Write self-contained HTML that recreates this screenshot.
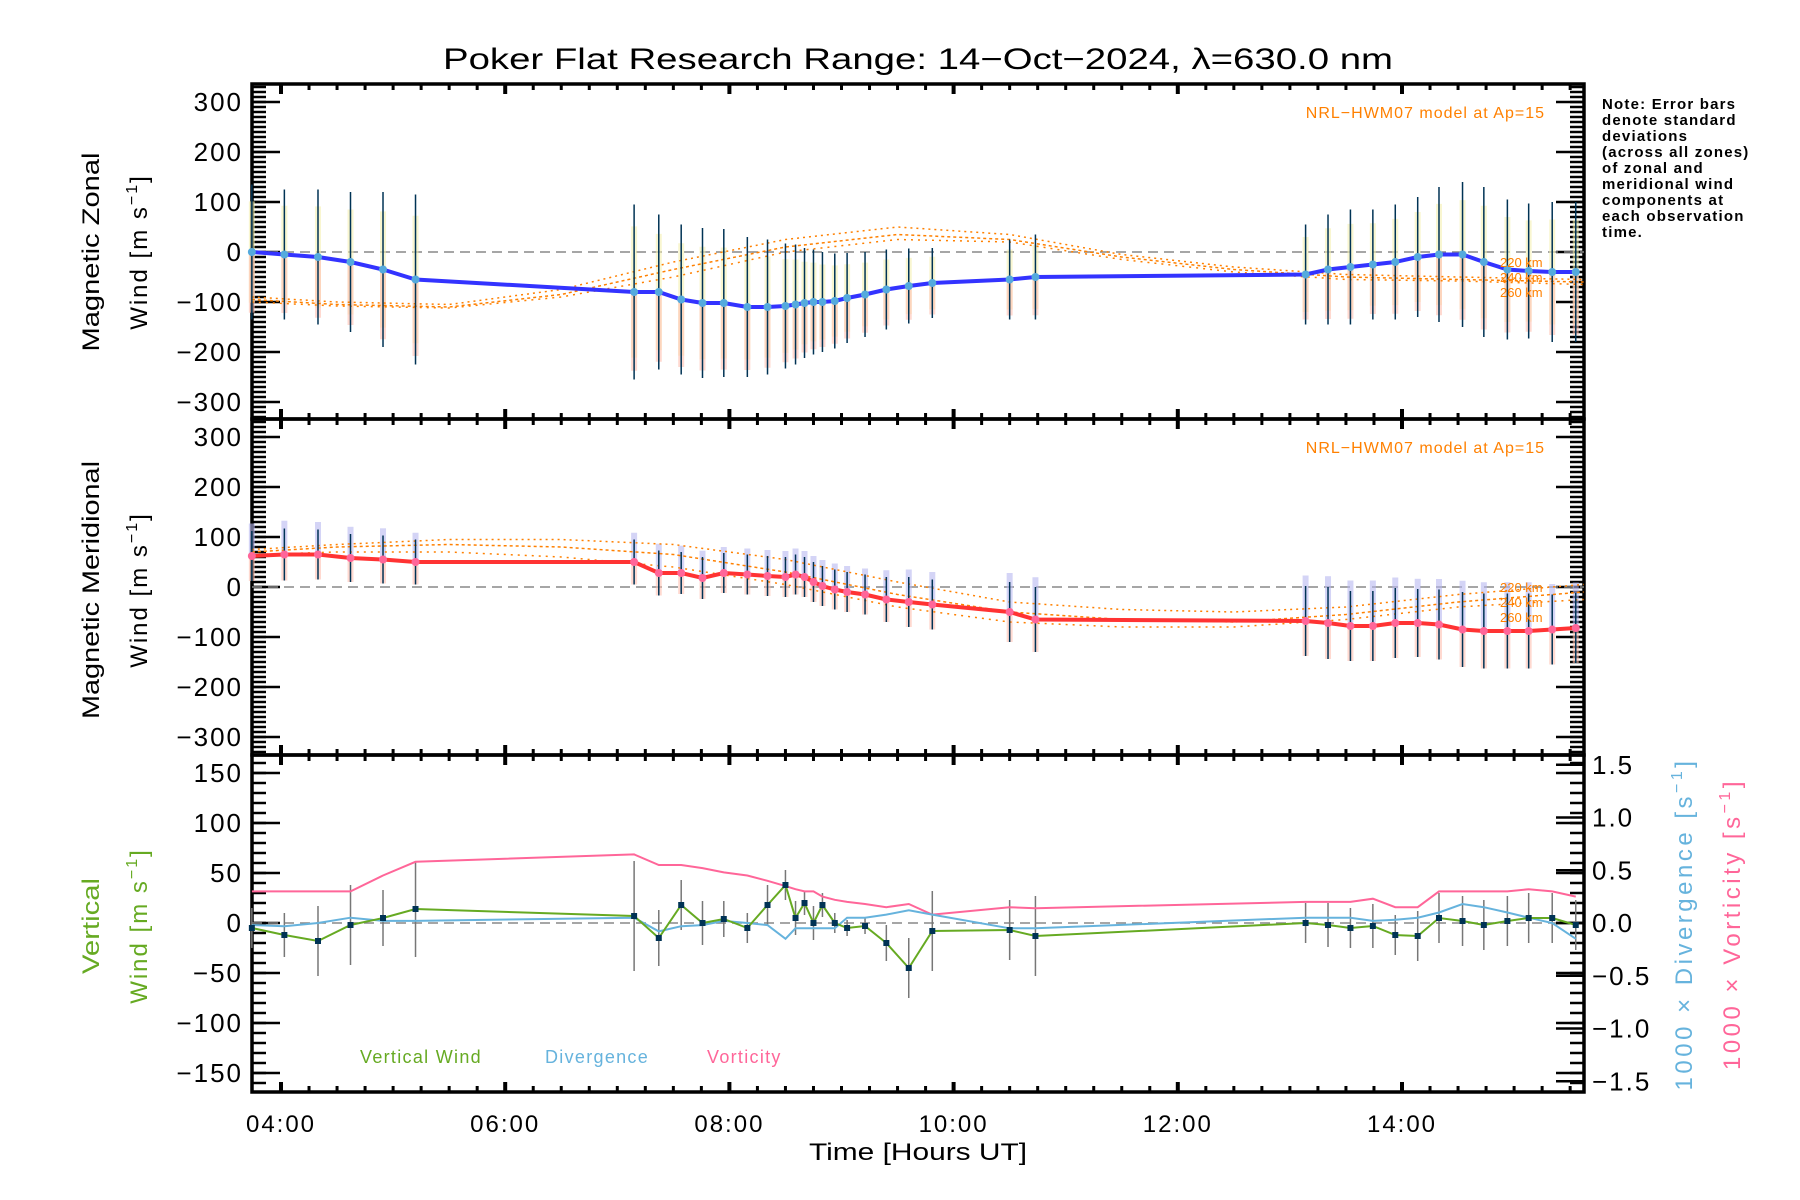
<!DOCTYPE html>
<html><head><meta charset="utf-8"><style>
html,body{margin:0;padding:0;background:#fff;}
svg{display:block;font-family:"Liberation Sans","DejaVu Sans",sans-serif;}
</style></head><body>
<svg id="chart" width="1800" height="1200" viewBox="0 0 1800 1200" xmlns="http://www.w3.org/2000/svg">
<text x="918" y="69" font-size="30" text-anchor="middle" textLength="950" lengthAdjust="spacingAndGlyphs">Poker Flat Research Range: 14−Oct−2024, λ=630.0 nm</text>
<g id="p1"></g>
<g id="p2"></g>
<g id="p3"></g>
<g font-size="24">
<text transform="translate(99,252) rotate(-90)" text-anchor="middle" textLength="199" lengthAdjust="spacingAndGlyphs">Magnetic Zonal</text>
<text transform="translate(147,252) rotate(-90)" text-anchor="middle" letter-spacing="2">Wind [m s<tspan dy="-10" font-size="16">−1</tspan><tspan dy="10">]</tspan></text>
</g>
<g font-size="24">
<text transform="translate(99,590) rotate(-90)" text-anchor="middle" textLength="258" lengthAdjust="spacingAndGlyphs">Magnetic Meridional</text>
<text transform="translate(147,590) rotate(-90)" text-anchor="middle" letter-spacing="2">Wind [m s<tspan dy="-10" font-size="16">−1</tspan><tspan dy="10">]</tspan></text>
</g>
<g font-size="24" fill="#66aa22">
<text transform="translate(99,926) rotate(-90)" text-anchor="middle" textLength="96" lengthAdjust="spacingAndGlyphs">Vertical</text>
<text transform="translate(147,926) rotate(-90)" text-anchor="middle" letter-spacing="2">Wind [m s<tspan dy="-10" font-size="16">−1</tspan><tspan dy="10">]</tspan></text>
</g>
<text transform="translate(1692,924) rotate(-90)" text-anchor="middle" font-size="24" fill="#66b3dd" letter-spacing="3.5">1000 × Divergence [s<tspan dy="-10" font-size="16">−1</tspan><tspan dy="10">]</tspan></text>
<text transform="translate(1740,924) rotate(-90)" text-anchor="middle" font-size="24" fill="#ff6699" letter-spacing="3.5">1000 × Vorticity [s<tspan dy="-10" font-size="16">−1</tspan><tspan dy="10">]</tspan></text>
<text x="918" y="1160" font-size="24" text-anchor="middle" textLength="218" lengthAdjust="spacingAndGlyphs">Time [Hours UT]</text>
<g font-size="15" font-weight="bold" letter-spacing="1.2">
<text x="1602" y="109">Note: Error bars</text><text x="1602" y="125">denote standard</text><text x="1602" y="141">deviations</text><text x="1602" y="157">(across all zones)</text><text x="1602" y="173">of zonal and</text><text x="1602" y="189">meridional wind</text><text x="1602" y="205">components at</text><text x="1602" y="221">each observation</text><text x="1602" y="237">time.</text>
</g>
<g font-size="18" letter-spacing="1.3">
<text x="360" y="1063" fill="#66aa22">Vertical Wind</text>
<text x="545" y="1063" fill="#66b3dd">Divergence</text>
<text x="707" y="1063" fill="#ff6699">Vorticity</text>
</g>
</svg>
<script>
const times=[3.74,4.03,4.33,4.62,4.91,5.20,7.15,7.37,7.57,7.76,7.95,8.16,8.34,8.50,8.59,8.67,8.75,8.83,8.94,9.05,9.21,9.40,9.60,9.81,10.50,10.73,13.14,13.34,13.54,13.74,13.94,14.14,14.33,14.54,14.73,14.94,15.13,15.34,15.55];
const zonal=[0,-5,-10,-20,-35,-55,-80,-80,-95,-102,-102,-110,-110,-108,-105,-102,-100,-100,-98,-92,-85,-75,-68,-62,-55,-50,-45,-35,-30,-25,-20,-10,-5,-5,-20,-35,-38,-40,-40];
const zonalErr=[135,130,135,140,155,170,175,155,150,150,148,140,135,125,120,110,105,100,95,90,85,80,75,70,80,85,100,110,115,110,115,120,135,145,150,140,135,140,140];
const meridional=[62,65,65,58,55,50,50,28,28,18,28,25,22,20,25,20,10,2,-5,-10,-15,-25,-30,-35,-50,-65,-68,-72,-78,-78,-72,-72,-75,-85,-88,-88,-88,-85,-82];
const meridErr=[50,52,50,48,48,45,45,45,42,42,40,40,40,40,40,40,40,40,40,40,40,45,50,50,60,65,70,72,70,70,70,68,70,75,75,75,75,70,70];
const vertical=[-5,-12,-18,-2,5,14,7,-15,18,0,4,-5,18,38,5,20,0,18,0,-5,-3,-20,-45,-8,-7,-13,0,-2,-5,-3,-12,-13,5,2,-2,2,5,5,-2];
const vertErr=[20,22,35,40,28,48,55,28,25,22,18,15,20,15,17,12,17,12,10,8,8,18,30,40,30,40,20,22,20,22,20,25,25,25,25,25,25,25,25];
const divergence=[-0.02,-0.03,0.0,0.05,0.02,0.02,0.05,-0.08,-0.03,-0.02,0.02,0.0,-0.02,-0.15,-0.05,-0.05,-0.05,-0.05,-0.05,0.05,0.05,0.08,0.12,0.08,-0.05,-0.05,0.05,0.05,0.05,0.02,0.03,0.05,0.1,0.18,0.15,0.1,0.05,0.0,-0.15];
const vorticity=[0.3,0.3,0.3,0.3,0.45,0.58,0.65,0.55,0.55,0.52,0.48,0.45,0.4,0.35,0.32,0.3,0.3,0.25,0.22,0.2,0.18,0.15,0.18,0.08,0.15,0.14,0.2,0.2,0.2,0.23,0.15,0.15,0.3,0.3,0.3,0.3,0.32,0.3,0.25];
const modelHours=[3.74,4.5,5.5,6.5,7.5,8.5,9.5,10.5,11.5,12.5,13.5,14.5,15.62];
const zonalModel220=[-90,-100,-105,-75,-20,25,50,35,-5,-30,-45,-50,-55];
const zonalModel240=[-95,-105,-110,-85,-35,10,35,25,-10,-35,-50,-55,-60];
const zonalModel260=[-100,-108,-112,-90,-50,0,25,20,-15,-40,-55,-58,-65];
const meridModel220=[75,85,95,95,85,55,10,-30,-45,-50,-40,-15,5];
const meridModel240=[70,80,85,80,65,30,-15,-50,-65,-70,-55,-30,-10];
const meridModel260=[65,70,70,60,40,5,-40,-70,-80,-80,-65,-40,-25];
const xTicks=[4,6,8,10,12,14];
const xTickLabels=["04:00","06:00","08:00","10:00","12:00","14:00"];
const windTicks=[-300,-200,-100,0,100,200,300];
const vertTicks=[-150,-100,-50,0,50,100,150];
const rightTicks=[-1.5,-1.0,-0.5,0.0,0.5,1.0,1.5];

const NS="http://www.w3.org/2000/svg";
const L=252,R=1584,T0=84,T1=419,T2=755,T3=1092;
const x=h=>281+(h-4)*112.1;
function mk(parent,tag,attrs){const e=document.createElementNS(NS,tag);for(const k in attrs)e.setAttribute(k,attrs[k]);parent.appendChild(e);return e;}
function panelFrame(g,top,bot,yFn,ticks,minorStep,lo,hi){
  for(let v=Math.ceil(lo/minorStep)*minorStep;v<=hi;v+=minorStep){const yy=yFn(v);if(yy<top+1||yy>bot-1)continue;
    mk(g,'line',{x1:L,x2:L+14,y1:yy,y2:yy,stroke:'#000','stroke-width':2.5});
    mk(g,'line',{x1:R,x2:R-14,y1:yy,y2:yy,stroke:'#000','stroke-width':2.5});}
  ticks.forEach(v=>{const yy=yFn(v);
    mk(g,'line',{x1:L,x2:L+28,y1:yy,y2:yy,stroke:'#000','stroke-width':2.5});
    mk(g,'line',{x1:R,x2:R-28,y1:yy,y2:yy,stroke:'#000','stroke-width':2.5});
    const t=mk(g,'text',{x:243,y:yy+9,'font-size':26,'text-anchor':'end','letter-spacing':2});t.textContent=(v<0?'−':'')+Math.abs(v);
    
    
  });
  for(let h=4;h<=15.5;h+=0.25){const xx=x(h);const major=(h%2===0);
    mk(g,'line',{x1:xx,x2:xx,y1:top,y2:top+(major?10:6),stroke:'#000','stroke-width':major?4:3});
    mk(g,'line',{x1:xx,x2:xx,y1:bot,y2:bot-(major?10:6),stroke:'#000','stroke-width':major?4:3});}
  mk(g,'rect',{x:L,y:top,width:R-L,height:bot-top,fill:'none',stroke:'#000','stroke-width':3.5});
  mk(g,'line',{x1:L,x2:R,y1:yFn(0),y2:yFn(0),stroke:'#888','stroke-width':1.5,'stroke-dasharray':'10,6'});
}
function poly(g,xs,ys,attrs){mk(g,'polyline',Object.assign({points:xs.map((v,i)=>x(v).toFixed(1)+','+ys[i].toFixed(1)).join(' '),fill:'none'},attrs));}

(function(){
  const g=document.getElementById('p1');const y=v=>252-v*0.5;
  panelFrame(g,T0,T1,y,windTicks,10,-335,335);
  times.forEach((t,i)=>{
    const b=mk(g,'rect',{x:x(t)-3,y:y(zonal[i]+zonalErr[i]*0.75),width:6,height:zonalErr[i]*0.75,fill:'#f5f0b0','fill-opacity':0.6});
    
    
    const c=mk(g,'rect',{x:x(t)-3,y:y(zonal[i]),width:6,height:zonalErr[i]*0.5*0.9,fill:'#ffc0b0','fill-opacity':0.6});
    
    
  });
  [[zonalModel220,'2,4'],[zonalModel240,'3,3'],[zonalModel260,'2,5']].forEach(([m,d])=>{
    const e=mk(g,'polyline',{points:modelHours.map((h,i)=>x(h)+','+y(m[i])).join(' '),fill:'none',stroke:'#ff8000','stroke-width':1.5,'stroke-dasharray':d});
    
    
  });
  times.forEach((t,i)=>{const e=mk(g,'line',{x1:x(t),x2:x(t),y1:y(zonal[i]+zonalErr[i]),y2:y(zonal[i]-zonalErr[i]),stroke:'#003355','stroke-width':1.5});
    
    });
  poly(g,times,zonal.map(y),{stroke:'#3333ff','stroke-width':4});
  times.forEach((t,i)=>{const e=mk(g,'circle',{cx:x(t),cy:y(zonal[i]),r:4,fill:'#55aadd'});
    
    });
  const t=mk(g,'text',{x:1545,y:118,'font-size':16,'text-anchor':'end',fill:'#ff8000','letter-spacing':1});t.textContent='NRL−HWM07 model at Ap=15';
  ['220 km','240 km','260 km'].forEach((s,i)=>{const e=mk(g,'text',{x:1500,y:267+i*15,'font-size':13,fill:'#ff8000'});e.textContent=s;});
})();
(function(){
  const g=document.getElementById('p2');const y=v=>587-v*0.5;
  panelFrame(g,T1,T2,y,windTicks,10,-335,335);
  times.forEach((t,i)=>{
    const b=mk(g,'rect',{x:x(t)-3,y:y(meridional[i]+meridErr[i]*1.3),width:6,height:meridErr[i]*0.6,fill:'#b8b8f0','fill-opacity':0.6});
    
    
    const c=mk(g,'rect',{x:x(t)-3,y:y(meridional[i]),width:6,height:meridErr[i]*0.5,fill:'#ffc0b0','fill-opacity':0.6});
    
    
  });
  [[meridModel220,'2,4'],[meridModel240,'3,3'],[meridModel260,'2,5']].forEach(([m,d])=>{
    const e=mk(g,'polyline',{points:modelHours.map((h,i)=>x(h)+','+y(m[i])).join(' '),fill:'none',stroke:'#ff8000','stroke-width':1.5,'stroke-dasharray':d});
    
    
  });
  times.forEach((t,i)=>{const e=mk(g,'line',{x1:x(t),x2:x(t),y1:y(meridional[i]+meridErr[i]),y2:y(meridional[i]-meridErr[i]),stroke:'#003355','stroke-width':1.5});
    
    });
  poly(g,times,meridional.map(y),{stroke:'#ff3333','stroke-width':4});
  times.forEach((t,i)=>{const e=mk(g,'circle',{cx:x(t),cy:y(meridional[i]),r:4,fill:'#ff6699'});
    
    });
  const t=mk(g,'text',{x:1545,y:453,'font-size':16,'text-anchor':'end',fill:'#ff8000','letter-spacing':1});t.textContent='NRL−HWM07 model at Ap=15';
  ['220 km','240 km','260 km'].forEach((s,i)=>{const e=mk(g,'text',{x:1500,y:592+i*15,'font-size':13,fill:'#ff8000'});e.textContent=s;});
})();
(function(){
  const g=document.getElementById('p3');const y=v=>923-v*1.0;const yr=v=>923-v*105.5;
  panelFrame(g,T2,T3,y,vertTicks,10,-165,165);
  rightTicks.forEach(v=>{const yy=yr(v);
    mk(g,'line',{x1:R,x2:R-28,y1:yy,y2:yy,stroke:'#000','stroke-width':2.5});
    const t=mk(g,'text',{x:1592,y:yy+9,'font-size':26,'letter-spacing':2});t.textContent=(v<0?'−':'')+Math.abs(v).toFixed(1);
    
    });
  times.forEach((t,i)=>{const e=mk(g,'line',{x1:x(t),x2:x(t),y1:y(vertical[i]+vertErr[i]),y2:y(vertical[i]-vertErr[i]),stroke:'#777','stroke-width':1.5});
    
    });
  poly(g,times,vorticity.map(yr),{stroke:'#ff6699','stroke-width':2});
  poly(g,times,divergence.map(yr),{stroke:'#66b3dd','stroke-width':2});
  poly(g,times,vertical.map(y),{stroke:'#66aa22','stroke-width':2});
  times.forEach((t,i)=>{const e=mk(g,'rect',{x:x(t)-3,y:y(vertical[i])-3,width:6,height:6,fill:'#003355'});
    
    });
  xTicks.forEach((h,i)=>{const t=mk(g,'text',{x:x(h),y:1132,'font-size':24,'text-anchor':'middle','letter-spacing':2});t.textContent=xTickLabels[i];
    
    });
})();
</script>
</body></html>
